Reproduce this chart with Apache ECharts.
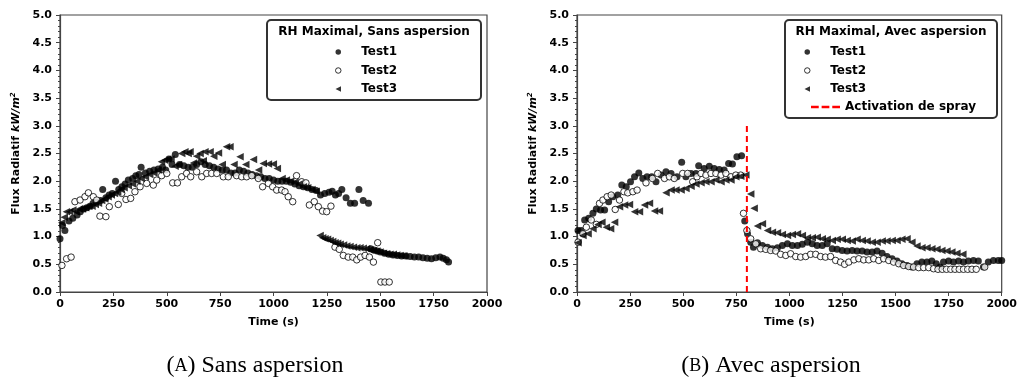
<!DOCTYPE html>
<html>
<head>
<meta charset="utf-8">
<script src="https://cdn.jsdelivr.net/npm/echarts@6/dist/echarts.min.js"></script>
<style>
  html, body { margin: 0; padding: 0; background: #fff; }
  #main { width: 1020px; height: 381px; }
</style>
</head>
<body>
<div id="main"></div>
<script>
// tick labels
var xTicks = [0, 250, 500, 750, 1000, 1250, 1500, 1750, 2000];
var yTicks = [0, 0.5, 1, 1.5, 2, 2.5, 3, 3.5, 4, 4.5, 5];

// (A) Sans aspersion : [time s, flux kW/m2]
var sansTest1 = [[0,0.96],[12,1.2],[23,1.11],[42,1.28],[60,1.33],[80,1.39],[95,1.45],[110,1.5],[125,1.52],[140,1.55],[155,1.6],[170,1.62],[190,1.65],[200,1.85],[215,1.7],[230,1.75],[245,1.78],[260,2.0],[275,1.85],[290,1.9],[305,1.95],[320,2.02],[340,2.05],[355,2.1],[370,2.12],[380,2.25],[400,2.15],[420,2.18],[440,2.2],[460,2.22],[480,2.25],[495,2.2],[510,2.4],[525,2.3],[540,2.48],[560,2.3],[580,2.28],[600,2.25],[620,2.25],[640,2.3],[660,2.35],[680,2.3],[700,2.28],[720,2.25],[740,2.22],[760,2.2],[780,2.2],[800,2.15],[820,2.15],[840,2.2],[860,2.18],[880,2.15],[900,2.12],[920,2.1],[940,2.08],[960,2.05],[980,2.05],[1000,2.02],[1020,2.0],[1040,2.0],[1060,2.0],[1080,1.98],[1100,1.95],[1120,1.92],[1140,1.9],[1160,1.88],[1180,1.85],[1200,1.83],[1220,1.75],[1240,1.78],[1260,1.8],[1275,1.82],[1290,1.75],[1305,1.78],[1320,1.85],[1340,1.7],[1360,1.6],[1380,1.6],[1400,1.85],[1420,1.65],[1445,1.6],[1455,0.78],[1470,0.76],[1485,0.74],[1500,0.72],[1520,0.7],[1540,0.68],[1560,0.67],[1580,0.66],[1600,0.65],[1620,0.65],[1640,0.64],[1660,0.63],[1680,0.63],[1700,0.62],[1720,0.61],[1740,0.6],[1760,0.62],[1780,0.63],[1795,0.61],[1810,0.58],[1820,0.54]];
var sansTest2 = [[9,0.48],[31,0.6],[52,0.63],[70,1.63],[94,1.66],[117,1.72],[133,1.79],[156,1.72],[172,1.66],[187,1.37],[215,1.36],[231,1.54],[273,1.58],[289,1.78],[309,1.67],[331,1.69],[351,1.81],[375,1.9],[406,1.96],[437,1.93],[453,2.02],[476,2.1],[500,2.14],[528,1.97],[550,1.97],[570,2.08],[593,2.14],[612,2.08],[640,2.17],[664,2.08],[687,2.14],[710,2.14],[734,2.14],[765,2.08],[788,2.08],[827,2.1],[851,2.08],[874,2.08],[898,2.1],[929,2.05],[949,1.9],[976,1.96],[996,1.9],[1015,1.84],[1038,1.84],[1054,1.81],[1069,1.72],[1090,1.63],[1108,2.1],[1132,1.99],[1152,1.97],[1168,1.57],[1191,1.63],[1210,1.54],[1230,1.46],[1249,1.45],[1269,1.55],[1288,0.81],[1308,0.77],[1327,0.66],[1350,0.63],[1371,0.63],[1390,0.58],[1408,0.63],[1429,0.66],[1449,0.63],[1468,0.54],[1488,0.89],[1503,0.18],[1522,0.18],[1542,0.18]];
var sansTest3 = [[8,1.25],[20,1.35],[30,1.45],[45,1.45],[60,1.48],[75,1.45],[90,1.5],[105,1.5],[120,1.52],[135,1.55],[150,1.55],[165,1.58],[180,1.6],[195,1.65],[210,1.68],[225,1.72],[240,1.75],[255,1.78],[270,1.8],[285,1.85],[300,1.88],[320,1.92],[340,1.95],[360,2.0],[380,2.05],[400,2.08],[420,2.12],[440,2.15],[460,2.2],[475,2.35],[490,2.38],[505,2.4],[520,2.4],[539,2.27],[555,2.3],[570,2.5],[585,2.53],[600,2.5],[609,2.53],[625,2.33],[640,2.45],[656,2.5],[671,2.37],[679,2.53],[703,2.53],[720,2.45],[742,2.51],[760,2.3],[780,2.62],[796,2.62],[815,2.3],[843,2.44],[870,2.3],[906,2.39],[930,2.2],[952,2.32],[976,2.31],[999,2.31],[1018,2.23],[1040,2.05],[1060,2.02],[1080,2.0],[1100,1.98],[1120,1.95],[1140,1.9],[1160,1.88],[1180,1.85],[1200,1.82],[1218,1.02],[1230,0.98],[1241,0.96],[1253,0.95],[1265,0.93],[1277,0.91],[1288,0.89],[1300,0.88],[1312,0.86],[1328,0.85],[1343,0.83],[1358,0.82],[1374,0.81],[1390,0.8],[1405,0.8],[1420,0.79],[1436,0.78],[1452,0.76],[1468,0.75],[1484,0.74],[1499,0.72],[1515,0.7],[1530,0.69],[1545,0.68],[1561,0.68],[1577,0.67],[1593,0.66],[1610,0.65]];

// (B) Avec aspersion
var avecTest1 = [[5,1.11],[20,1.11],[36,1.3],[55,1.33],[75,1.42],[91,1.5],[111,1.48],[130,1.48],[149,1.63],[169,1.72],[192,1.75],[211,1.93],[232,1.9],[252,1.99],[271,2.08],[291,2.15],[310,2.05],[330,2.08],[352,2.08],[372,1.99],[396,2.11],[419,2.17],[443,2.14],[471,2.08],[493,2.34],[513,2.08],[537,2.14],[560,2.14],[573,2.28],[599,2.23],[623,2.27],[646,2.23],[670,2.21],[693,2.2],[714,2.32],[732,2.31],[753,2.44],[775,2.46],[790,1.28],[803,1.05],[818,0.9],[831,0.81],[850,0.89],[873,0.84],[897,0.81],[920,0.78],[944,0.8],[967,0.84],[991,0.87],[1014,0.84],[1038,0.84],[1061,0.86],[1085,0.9],[1108,0.87],[1131,0.84],[1155,0.84],[1178,0.87],[1202,0.78],[1225,0.77],[1249,0.75],[1272,0.74],[1296,0.75],[1319,0.74],[1343,0.74],[1366,0.72],[1390,0.72],[1413,0.74],[1437,0.7],[1460,0.64],[1484,0.6],[1507,0.56],[1530,0.51],[1554,0.48],[1577,0.45],[1601,0.51],[1624,0.54],[1648,0.54],[1671,0.56],[1692,0.51],[1710,0.45],[1726,0.54],[1750,0.56],[1773,0.54],[1797,0.56],[1820,0.54],[1843,0.56],[1867,0.57],[1890,0.56],[1914,0.45],[1937,0.54],[1961,0.57],[1984,0.57],[2000,0.57]];
var avecTest2 = [[5,0.9],[28,1.05],[44,1.17],[67,1.3],[91,1.22],[106,1.6],[122,1.66],[142,1.72],[161,1.75],[180,1.49],[200,1.66],[221,1.81],[239,1.79],[263,1.81],[283,1.84],[325,1.97],[355,2.05],[380,2.14],[412,2.05],[435,2.08],[458,2.05],[498,2.14],[521,2.14],[545,1.99],[565,2.08],[584,2.14],[607,2.11],[631,2.14],[654,2.14],[678,2.11],[701,2.14],[725,2.08],[748,2.11],[771,2.11],[784,1.42],[800,1.11],[818,0.96],[842,0.87],[865,0.78],[889,0.77],[912,0.75],[936,0.74],[959,0.68],[983,0.66],[1006,0.69],[1030,0.64],[1053,0.63],[1077,0.64],[1100,0.68],[1124,0.68],[1147,0.64],[1170,0.63],[1194,0.64],[1218,0.57],[1241,0.54],[1260,0.5],[1280,0.54],[1304,0.58],[1327,0.6],[1350,0.58],[1374,0.58],[1397,0.6],[1421,0.57],[1444,0.6],[1468,0.57],[1491,0.54],[1515,0.51],[1538,0.48],[1562,0.46],[1585,0.45],[1609,0.44],[1632,0.44],[1656,0.44],[1679,0.42],[1700,0.41],[1720,0.41],[1740,0.41],[1760,0.41],[1780,0.41],[1800,0.41],[1820,0.41],[1840,0.41],[1860,0.41],[1880,0.41],[1920,0.45]];
var avecTest3 = [[5,0.89],[28,1.02],[52,1.05],[75,1.14],[99,1.22],[117,1.26],[138,1.17],[158,1.14],[177,1.26],[200,1.54],[224,1.57],[247,1.58],[271,1.45],[294,1.45],[318,1.57],[341,1.6],[365,1.46],[388,1.46],[419,1.79],[443,1.84],[466,1.84],[490,1.84],[513,1.87],[537,1.91],[560,1.95],[584,1.97],[607,1.99],[631,1.99],[654,2.02],[678,1.99],[701,2.02],[725,2.02],[748,2.08],[771,2.09],[795,2.11],[818,1.77],[834,1.51],[850,1.19],[873,1.23],[897,1.11],[920,1.08],[944,1.07],[967,1.04],[991,1.02],[1014,1.04],[1038,1.05],[1061,1.02],[1085,0.98],[1108,0.98],[1131,0.99],[1155,0.96],[1178,0.95],[1202,0.93],[1225,0.95],[1249,0.95],[1272,0.93],[1296,0.92],[1319,0.95],[1343,0.93],[1366,0.92],[1390,0.9],[1413,0.9],[1437,0.92],[1460,0.92],[1484,0.93],[1507,0.93],[1530,0.95],[1554,0.96],[1577,0.9],[1601,0.83],[1624,0.8],[1648,0.8],[1671,0.78],[1695,0.77],[1718,0.75],[1742,0.74],[1765,0.72],[1789,0.7],[1817,0.68]];

var sprayTime = 800;
var sprayRange = [0, 3.0];

var chart = echarts.init(document.getElementById('main'));

var bold = 'DejaVu Sans';
var spine = '#444';
var leftTri = 'path://M0,5L10,0L10,10Z';
var dashIcon = 'path://M0,0h8v2.4h-8zM11,0h8v2.4h-8zM22,0h8v2.4h-8z';

function xAx(g) {
  return {
    gridIndex: g, type: 'value', min: 0, max: 2000, interval: 250,
    name: 'Time (s)', nameLocation: 'middle', nameGap: 25,
    nameTextStyle: { fontFamily: bold, fontWeight: 'bold', fontSize: 11, color: '#000' },
    axisLine: { show: true, onZero: false, lineStyle: { color: spine, width: 1.2 } },
    axisTick: { show: true, length: 4, lineStyle: { color: spine } },
    axisLabel: { margin: 7, fontFamily: bold, fontWeight: 'bold', fontSize: 11, color: '#000',
      formatter: function (v) { return xTicks.indexOf(v) >= 0 ? String(v) : ''; } },
    splitLine: { show: false }
  };
}
function yAx(g) {
  return {
    gridIndex: g, type: 'value', min: 0, max: 5, interval: 0.5,
    name: '{b|Flux Radiatif }{i|kW/m}{s|2}', nameLocation: 'middle', nameGap: 37,
    nameTextStyle: { color: '#000',
      rich: {
        b: { fontFamily: bold, fontWeight: 'bold', fontSize: 11, color: '#000' },
        i: { fontFamily: bold, fontWeight: 'bold', fontStyle: 'italic', fontSize: 11, color: '#000' },
        s: { fontFamily: bold, fontWeight: 'bold', fontStyle: 'italic', fontSize: 7, color: '#000', verticalAlign: 'top', padding: [0, 0, 6, 0] }
      } },
    axisLine: { show: true, lineStyle: { color: spine, width: 1.2 } },
    axisTick: { show: true, length: 4, lineStyle: { color: spine } },
    minorTick: { show: true, splitNumber: 5, length: 2, lineStyle: { color: spine } },
    axisLabel: { margin: 8, fontFamily: bold, fontWeight: 'bold', fontSize: 11, color: '#000',
      formatter: function (v) { return yTicks.indexOf(v) >= 0 ? v.toFixed(1) : ''; } },
    splitLine: { show: false }
  };
}

function filled(name, data, g) {
  return { name: name, type: 'scatter', xAxisIndex: g, yAxisIndex: g, data: data,
    symbol: 'circle', symbolSize: 7, itemStyle: { color: '#000' }, silent: true };
}
function open(name, data, g) {
  return { name: name, type: 'scatter', xAxisIndex: g, yAxisIndex: g, data: data,
    symbol: 'circle', symbolSize: 6.5, itemStyle: { color: '#fff', borderColor: '#000', borderWidth: 1 }, silent: true };
}
function tri(name, data, g) {
  return { name: name, type: 'scatter', xAxisIndex: g, yAxisIndex: g, data: data,
    symbol: leftTri, symbolKeepAspect: true, symbolSize: 7.5, itemStyle: { color: '#000' }, silent: true };
}

var legendText = { fontFamily: bold, fontWeight: 'bold', fontSize: 12, color: '#000', lineHeight: 14 };

function legendItems(suffix) {
  return [
    { name: 'Test1' + suffix, icon: 'circle', itemStyle: { color: '#000', borderWidth: 0 } },
    { name: 'Test2' + suffix, icon: 'circle', itemStyle: { color: '#fff', borderColor: '#000', borderWidth: 1 } },
    { name: 'Test3' + suffix, icon: leftTri, itemStyle: { color: '#000', borderWidth: 0 } }
  ];
}

function box(x, y, w, h, title) {
  return [
    { type: 'rect', z: 3, shape: { x: x, y: y, width: w, height: h, r: 4 },
      style: { fill: '#fff', stroke: '#333', lineWidth: 2 } },
    { type: 'text', z: 5, x: x + w / 2, y: 32,
      style: { text: title, fontFamily: bold, fontWeight: 'bold', fontSize: 12, fill: '#000',
        textAlign: 'center', textVerticalAlign: 'middle' } }
  ];
}

function caption(cx, letter, text) {
  return { type: 'text', z: 5, x: cx, y: 366,
    style: { text: '{p|(}{s|' + letter + '}{p|) ' + text + '}', textAlign: 'center', textVerticalAlign: 'middle',
      rich: {
        p: { fontFamily: 'Liberation Serif', fontSize: 24, fill: '#000' },
        s: { fontFamily: 'Liberation Serif', fontSize: 18, fill: '#000' }
      } } };
}

var option = {
  animation: false,
  backgroundColor: '#fff',
  grid: [
    { left: 60, right: 533, top: 15, bottom: 89, show: true, borderColor: spine, borderWidth: 1.2 },
    { left: 577, right: 17, top: 15, bottom: 89, show: true, borderColor: spine, borderWidth: 1.2 }
  ],
  xAxis: [xAx(0), xAx(1)],
  yAxis: [yAx(0), yAx(1)],
  legend: [
    { orient: 'vertical', left: 330, top: 40, itemWidth: 36, itemHeight: 5.5, itemGap: 4.5,
      data: legendItems(''), textStyle: legendText, selectedMode: false, z: 6 },
    { orient: 'vertical', left: 799, top: 40, itemWidth: 36, itemHeight: 5.5, itemGap: 4.5,
      data: legendItems(' '), textStyle: legendText, selectedMode: false, z: 6 },
    { orient: 'vertical', left: 806, top: 95, itemWidth: 29, itemHeight: 6,
      data: [{ name: 'Activation de spray', icon: dashIcon, itemStyle: { color: '#ff0000' } }],
      textStyle: legendText, selectedMode: false, z: 6 }
  ],
  graphic: [].concat(
    box(267, 20, 214, 80, 'RH Maximal, Sans aspersion'),
    box(785, 20, 212, 98, 'RH Maximal, Avec aspersion'),
    [caption(255, 'A', 'Sans aspersion'), caption(771, 'B', 'Avec aspersion')]
  ),
  series: [
    filled('Test1', sansTest1, 0),
    open('Test2', sansTest2, 0),
    tri('Test3', sansTest3, 0),
    filled('Test1 ', avecTest1, 1),
    open('Test2 ', avecTest2, 1),
    tri('Test3 ', avecTest3, 1),
    { name: 'Activation de spray', type: 'line', xAxisIndex: 1, yAxisIndex: 1,
      data: [[sprayTime, sprayRange[0]], [sprayTime, sprayRange[1]]],
      symbol: 'none', silent: true, z: 4,
      lineStyle: { color: '#ff0000', type: [6, 4], width: 2 }, itemStyle: { color: '#ff0000' } }
  ]
};
chart.setOption(option);
</script>
</body>
</html>
